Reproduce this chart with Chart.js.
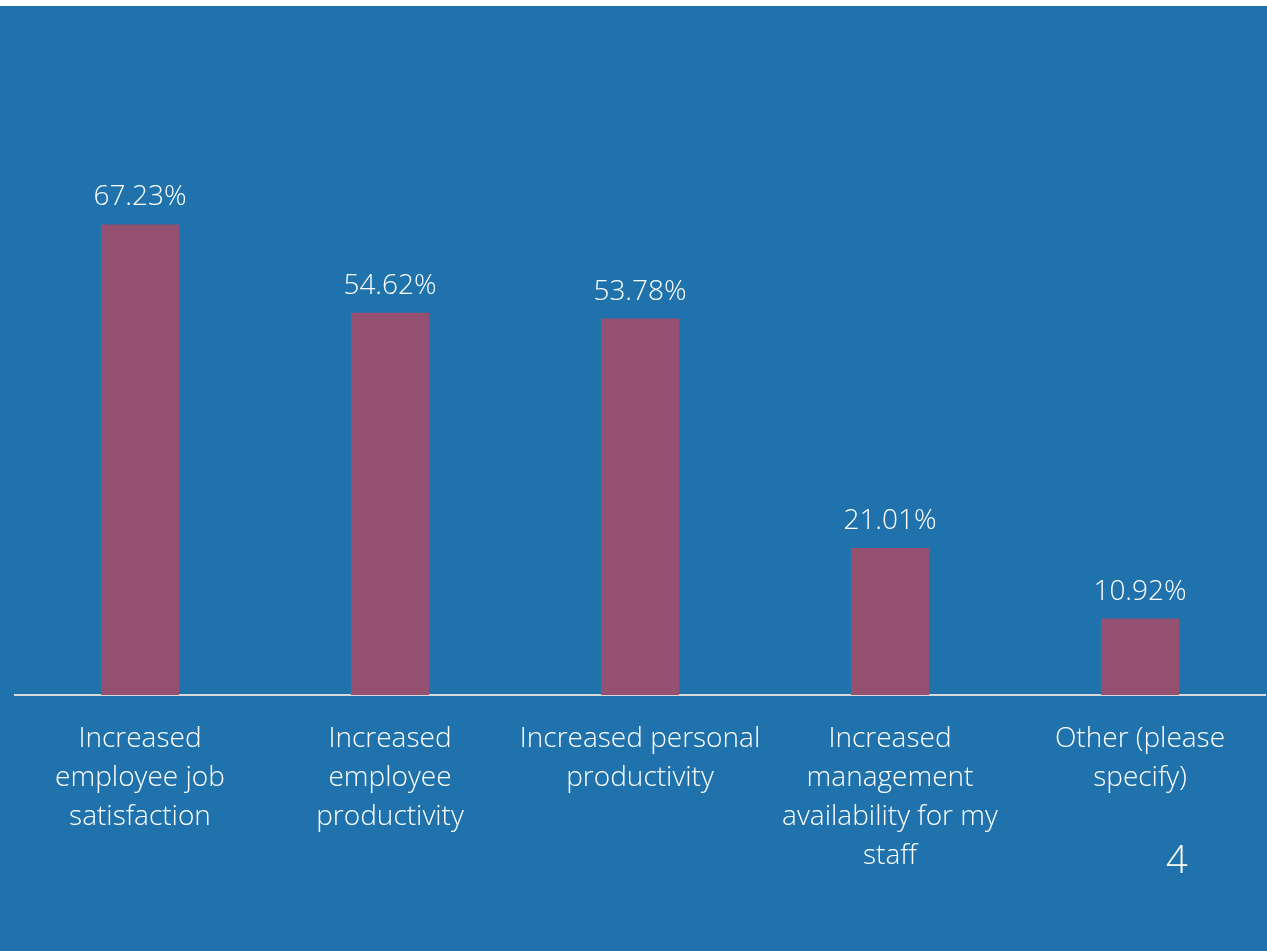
<!DOCTYPE html>
<html>
<head>
<meta charset="utf-8">
<script src="https://cdn.jsdelivr.net/npm/chart.js@4/dist/chart.umd.min.js"></script>
<style>
  html, body { margin: 0; padding: 0; background: #fff; }
  #wrap { position: absolute; left: 0; top: 6px; width: 1267px; height: 945px; background: #1f72ab; }
  #page { position: absolute; left: 1166px; top: 826px; color: #fff; font: 300 38px "Open Sans", sans-serif; }
</style>
</head>
<body>
<div id="wrap">
  <canvas id="c" width="1267" height="945"></canvas>
  <div id="page">4</div>
</div>
<script>
// data
const categories = [
  ["Increased", "employee job", "satisfaction"],
  ["Increased", "employee", "productivity"],
  ["Increased personal", "productivity"],
  ["Increased", "management", "availability for my", "staff"],
  ["Other (please", "specify)"]
];
const values = [67.23, 54.62, 53.78, 21.01, 10.92];

const fontFam = '"Open Sans", sans-serif';

// value labels over each bar
const valueLabels = {
  id: 'valueLabels',
  afterDatasetsDraw(chart) {
    const ctx = chart.ctx;
    const meta = chart.getDatasetMeta(0);
    ctx.save();
    ctx.fillStyle = '#ffffff';
    ctx.font = '300 28px ' + fontFam;
    ctx.textAlign = 'center';
    ctx.textBaseline = 'bottom';
    meta.data.forEach((bar, i) => {
      ctx.fillText(values[i].toFixed(2) + '%', bar.x, bar.y - 13);
    });
    ctx.restore();
  }
};

new Chart(document.getElementById('c'), {
  type: 'bar',
  data: {
    labels: categories,
    datasets: [{
      data: values,
      backgroundColor: '#955172',
      barPercentage: 0.312,
      categoryPercentage: 1
    }]
  },
  options: {
    responsive: false,
    animation: false,
    layout: { padding: { left: 15, right: 2, top: 129, bottom: 0 } },
    plugins: { legend: { display: false }, tooltip: { enabled: false } },
    scales: {
      x: {
        grid: { display: false },
        border: { display: true, color: '#d9d9d9', width: 2 },
        ticks: {
          color: '#ffffff',
          font: { family: fontFam, size: 28, weight: 300, lineHeight: 1.4 },
          padding: 16,
          maxRotation: 0,
          autoSkip: false
        },
        afterFit(axis) { axis.height = 256; }
      },
      y: { display: false, min: 0, max: 80 }
    }
  },
  plugins: [valueLabels]
});
</script>
</body>
</html>
